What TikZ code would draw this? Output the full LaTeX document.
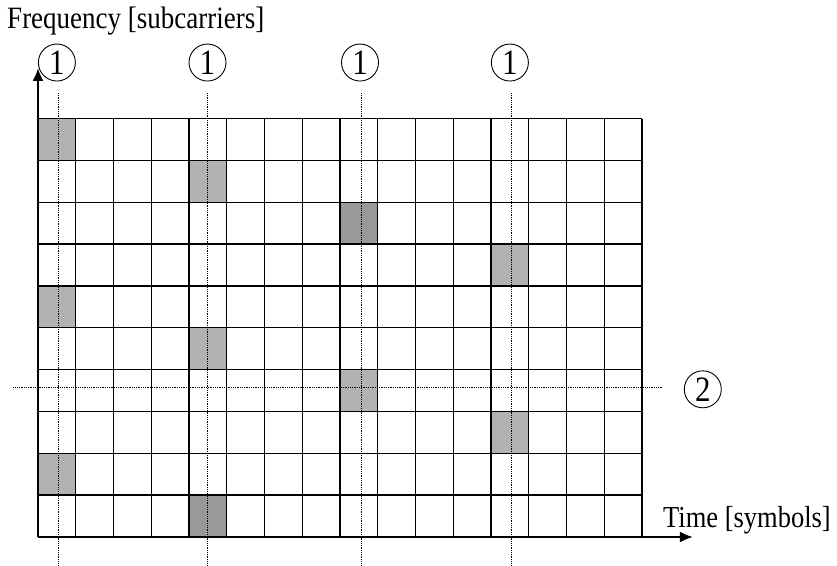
\documentclass[tikz,border=0pt]{standalone}
\usepackage{fontspec}
\setmainfont{Liberation Serif}
\usetikzlibrary{arrows.meta}
\definecolor{pilotlight}{gray}{0.70}
\definecolor{pilotdark}{gray}{0.60}
\newcommand{\tallText}[1]{\scalebox{1}[1.15]{#1}}
\tikzset{
    gridline/.style = {line width=1.4pt, black},
    axisline/.style = {line width=2.2pt, -{Latex[length=13pt,width=11pt]}},
    dotline/.style = {line width=0.8pt, densely dotted},
    marker/.style = {circle, draw, line width=0.9pt, minimum size=37pt, inner sep=0pt,
                     font=\fontsize{31}{31}\selectfont},
    axislabel/.style = {anchor=base west, inner sep=0pt, font=\fontsize{27}{30}\selectfont}
}
\begin{document}
\begin{tikzpicture}[x=37.75pt, y=41.84pt]
    \useasboundingbox (-38pt,-28pt) rectangle (799pt,537pt);
    % pilot cells
    \foreach \c/\r/\col in {0/9/pilotlight, 4/8/pilotlight, 8/7/pilotdark, 12/6/pilotlight,
                            0/5/pilotlight, 4/4/pilotlight, 8/3/pilotlight, 12/2/pilotlight,
                            0/1/pilotlight, 4/0/pilotdark}
    {
        \fill[\col] (\c,\r) rectangle ++(1,1);
    }
    \draw[gridline, step={(1,1)}] (0,0) grid (16,10);
    % axes
    \coordinate (origin) at (0,0);
    \coordinate (ftip) at (0,11.21);
    \coordinate (ttip) at (17.35,0);
    \draw[axisline] (origin)--(ftip);
    \draw[axisline] (origin)--(ttip);
    \node[axislabel] (flabel) at (-0.82,12.165) {\tallText{Frequency [subcarriers]}};
    \node[axislabel, font=\fontsize{26.5}{30}\selectfont] (tlabel) at (16.556,0.239) {\tallText{Time [symbols]}};
    % time markers
    \foreach \i/\x/\m in {1/0.55/0.50, 2/4.49/4.49, 3/8.56/8.53, 4/12.53/12.50}
    {
        \node[marker] (one\i) at (\m,11.34) {\tallText{1}};
        \coordinate (top\i) at (\x,10.61);
        \coordinate (bot\i) at (\x,-0.67);
        \draw[dotline] (top\i)--(bot\i);
    }
    % frequency marker
    \coordinate (left) at (-0.65,3.57);
    \coordinate (right) at (16.52,3.57);
    \draw[dotline] (left)--(right);
    \node[marker] (two) at (17.61,3.53) {\tallText{2}};
\end{tikzpicture}
\end{document}
